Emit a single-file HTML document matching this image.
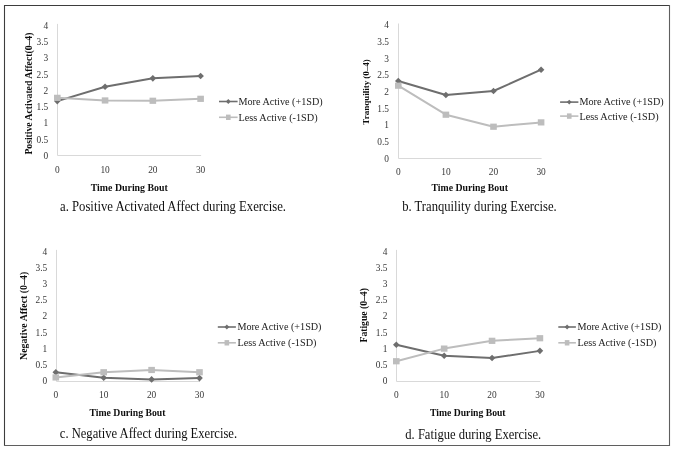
<!DOCTYPE html>
<html><head><meta charset="utf-8"><style>
html,body{margin:0;padding:0;background:#fff;overflow:hidden;}
svg{display:block;}
text{font-family:"Liberation Serif", serif;}
</style></head><body>
<svg width="675" height="449" viewBox="0 0 675 449">
<defs><filter id="bl" x="-2%" y="-2%" width="104%" height="104%"><feGaussianBlur stdDeviation="0.35"/></filter></defs>
<rect x="0" y="0" width="675" height="449" fill="#fff"/>
<g filter="url(#bl)">
<path d="M4.5 446V5.5H670" fill="none" stroke="#3e3e3e" stroke-width="1.1"/>
<path d="M669.5 5V445.5H4" fill="none" stroke="#5e5e5e" stroke-width="1.1"/>
<g id="cha">
<path d="M57.5 23.9V155.5H201.11" fill="none" stroke="#d9d9d9" stroke-width="1"/>
<text x="48.3" y="158.9" font-size="9.4" text-anchor="end" fill="#383838">0</text>
<text x="48.3" y="142.65" font-size="9.4" text-anchor="end" fill="#383838">0.5</text>
<text x="48.3" y="126.4" font-size="9.4" text-anchor="end" fill="#383838">1</text>
<text x="48.3" y="110.15" font-size="9.4" text-anchor="end" fill="#383838">1.5</text>
<text x="48.3" y="93.9" font-size="9.4" text-anchor="end" fill="#383838">2</text>
<text x="48.3" y="77.65" font-size="9.4" text-anchor="end" fill="#383838">2.5</text>
<text x="48.3" y="61.4" font-size="9.4" text-anchor="end" fill="#383838">3</text>
<text x="48.3" y="45.15" font-size="9.4" text-anchor="end" fill="#383838">3.5</text>
<text x="48.3" y="28.9" font-size="9.4" text-anchor="end" fill="#383838">4</text>
<text x="57.3" y="172.8" font-size="9.4" text-anchor="middle" fill="#383838">0</text>
<text x="105.07" y="172.8" font-size="9.4" text-anchor="middle" fill="#383838">10</text>
<text x="152.84" y="172.8" font-size="9.4" text-anchor="middle" fill="#383838">20</text>
<text x="200.61" y="172.8" font-size="9.4" text-anchor="middle" fill="#383838">30</text>
<text x="90.7" y="190.5" font-size="9.8" font-weight="bold" textLength="77.1" lengthAdjust="spacingAndGlyphs" fill="#111">Time During Bout</text>
<text transform="translate(28.6,93.6) rotate(-90)" x="-61" y="3.3" font-size="9.4" font-weight="bold" textLength="122" lengthAdjust="spacingAndGlyphs" fill="#111">Positive Activated Affect(0–4)</text>
<polyline points="57.3,101.1 105.07,86.8 152.84,78.35 200.61,76.07" fill="none" stroke="#6e6e6e" stroke-width="2" stroke-linejoin="round"/>
<path d="M57.3 97.8L60.6 101.1L57.3 104.4L54 101.1Z" fill="#6e6e6e"/>
<path d="M105.07 83.5L108.37 86.8L105.07 90.1L101.77 86.8Z" fill="#6e6e6e"/>
<path d="M152.84 75.05L156.14 78.35L152.84 81.65L149.54 78.35Z" fill="#6e6e6e"/>
<path d="M200.61 72.77L203.91 76.07L200.61 79.37L197.31 76.07Z" fill="#6e6e6e"/>
<polyline points="57.3,97.85 105.07,100.45 152.84,100.77 200.61,98.82" fill="none" stroke="#bdbdbd" stroke-width="2" stroke-linejoin="round"/>
<rect x="54" y="94.75" width="6.6" height="6.2" fill="#bdbdbd"/>
<rect x="101.77" y="97.35" width="6.6" height="6.2" fill="#bdbdbd"/>
<rect x="149.54" y="97.67" width="6.6" height="6.2" fill="#bdbdbd"/>
<rect x="197.31" y="95.72" width="6.6" height="6.2" fill="#bdbdbd"/>
<path d="M219 101.5H237.6" stroke="#6e6e6e" stroke-width="1.6"/>
<path d="M228.3 99.1L230.7 101.5L228.3 103.9L225.9 101.5Z" fill="#6e6e6e"/>
<path d="M219 117.3H237.6" stroke="#bdbdbd" stroke-width="1.6"/>
<rect x="226" y="114.6" width="4.6" height="5.4" fill="#bdbdbd"/>
<text x="238.5" y="105" font-size="10.4" textLength="84.1" lengthAdjust="spacingAndGlyphs" fill="#222">More Active (+1SD)</text>
<text x="238.5" y="120.6" font-size="10.4" textLength="79.1" lengthAdjust="spacingAndGlyphs" fill="#222">Less Active (-1SD)</text>
<text x="60" y="210.8" font-size="13.7" textLength="226" lengthAdjust="spacingAndGlyphs" fill="#111">a. Positive Activated Affect during Exercise.</text>
</g>
<g id="chb">
<path d="M398.5 23.5V158.5H541.6" fill="none" stroke="#d9d9d9" stroke-width="1"/>
<text x="389" y="161.6" font-size="9.4" text-anchor="end" fill="#383838">0</text>
<text x="389" y="144.92" font-size="9.4" text-anchor="end" fill="#383838">0.5</text>
<text x="389" y="128.25" font-size="9.4" text-anchor="end" fill="#383838">1</text>
<text x="389" y="111.58" font-size="9.4" text-anchor="end" fill="#383838">1.5</text>
<text x="389" y="94.9" font-size="9.4" text-anchor="end" fill="#383838">2</text>
<text x="389" y="78.23" font-size="9.4" text-anchor="end" fill="#383838">2.5</text>
<text x="389" y="61.55" font-size="9.4" text-anchor="end" fill="#383838">3</text>
<text x="389" y="44.88" font-size="9.4" text-anchor="end" fill="#383838">3.5</text>
<text x="389" y="28.2" font-size="9.4" text-anchor="end" fill="#383838">4</text>
<text x="398.3" y="174.7" font-size="9.4" text-anchor="middle" fill="#383838">0</text>
<text x="445.9" y="174.7" font-size="9.4" text-anchor="middle" fill="#383838">10</text>
<text x="493.5" y="174.7" font-size="9.4" text-anchor="middle" fill="#383838">20</text>
<text x="541.1" y="174.7" font-size="9.4" text-anchor="middle" fill="#383838">30</text>
<text x="431.5" y="191" font-size="9.8" font-weight="bold" textLength="76.4" lengthAdjust="spacingAndGlyphs" fill="#111">Time During Bout</text>
<text transform="translate(365.7,91.9) rotate(-90)" x="-32.75" y="3.3" font-size="8.9" font-weight="bold" textLength="65.5" lengthAdjust="spacingAndGlyphs" fill="#111">Tranquility (0–4)</text>
<polyline points="398.3,81.03 445.9,95.03 493.5,91.03 541.1,69.69" fill="none" stroke="#6e6e6e" stroke-width="2" stroke-linejoin="round"/>
<path d="M398.3 77.73L401.6 81.03L398.3 84.33L395 81.03Z" fill="#6e6e6e"/>
<path d="M445.9 91.73L449.2 95.03L445.9 98.33L442.6 95.03Z" fill="#6e6e6e"/>
<path d="M493.5 87.73L496.8 91.03L493.5 94.33L490.2 91.03Z" fill="#6e6e6e"/>
<path d="M541.1 66.39L544.4 69.69L541.1 72.99L537.8 69.69Z" fill="#6e6e6e"/>
<polyline points="398.3,85.7 445.9,114.71 493.5,126.72 541.1,122.38" fill="none" stroke="#bdbdbd" stroke-width="2" stroke-linejoin="round"/>
<rect x="395" y="82.6" width="6.6" height="6.2" fill="#bdbdbd"/>
<rect x="442.6" y="111.61" width="6.6" height="6.2" fill="#bdbdbd"/>
<rect x="490.2" y="123.62" width="6.6" height="6.2" fill="#bdbdbd"/>
<rect x="537.8" y="119.28" width="6.6" height="6.2" fill="#bdbdbd"/>
<path d="M560.1 102.1H578.4" stroke="#6e6e6e" stroke-width="1.6"/>
<path d="M569.25 99.7L571.65 102.1L569.25 104.5L566.85 102.1Z" fill="#6e6e6e"/>
<path d="M560.1 116.1H578.4" stroke="#bdbdbd" stroke-width="1.6"/>
<rect x="566.95" y="113.4" width="4.6" height="5.4" fill="#bdbdbd"/>
<text x="579.5" y="105" font-size="9.8" textLength="84.1" lengthAdjust="spacingAndGlyphs" fill="#222">More Active (+1SD)</text>
<text x="579.5" y="119.7" font-size="9.8" textLength="79.1" lengthAdjust="spacingAndGlyphs" fill="#222">Less Active (-1SD)</text>
<text x="402.2" y="211.1" font-size="13.7" textLength="154.6" lengthAdjust="spacingAndGlyphs" fill="#111">b. Tranquility during Exercise.</text>
</g>
<g id="chc">
<path d="M56.5 249.9V381.5H200" fill="none" stroke="#d9d9d9" stroke-width="1"/>
<text x="47.3" y="384.2" font-size="9.4" text-anchor="end" fill="#383838">0</text>
<text x="47.3" y="368" font-size="9.4" text-anchor="end" fill="#383838">0.5</text>
<text x="47.3" y="351.8" font-size="9.4" text-anchor="end" fill="#383838">1</text>
<text x="47.3" y="335.6" font-size="9.4" text-anchor="end" fill="#383838">1.5</text>
<text x="47.3" y="319.4" font-size="9.4" text-anchor="end" fill="#383838">2</text>
<text x="47.3" y="303.2" font-size="9.4" text-anchor="end" fill="#383838">2.5</text>
<text x="47.3" y="287" font-size="9.4" text-anchor="end" fill="#383838">3</text>
<text x="47.3" y="270.8" font-size="9.4" text-anchor="end" fill="#383838">3.5</text>
<text x="47.3" y="254.6" font-size="9.4" text-anchor="end" fill="#383838">4</text>
<text x="55.8" y="398.3" font-size="9.4" text-anchor="middle" fill="#383838">0</text>
<text x="103.7" y="398.3" font-size="9.4" text-anchor="middle" fill="#383838">10</text>
<text x="151.6" y="398.3" font-size="9.4" text-anchor="middle" fill="#383838">20</text>
<text x="199.5" y="398.3" font-size="9.4" text-anchor="middle" fill="#383838">30</text>
<text x="89.5" y="416.3" font-size="9.8" font-weight="bold" textLength="76" lengthAdjust="spacingAndGlyphs" fill="#111">Time During Bout</text>
<text transform="translate(23.8,315.9) rotate(-90)" x="-44.1" y="3.3" font-size="9.4" font-weight="bold" textLength="88.2" lengthAdjust="spacingAndGlyphs" fill="#111">Negative Affect (0–4)</text>
<polyline points="55.8,372.25 103.7,377.76 151.6,379.38 199.5,378.08" fill="none" stroke="#6e6e6e" stroke-width="2" stroke-linejoin="round"/>
<path d="M55.8 368.95L59.1 372.25L55.8 375.55L52.5 372.25Z" fill="#6e6e6e"/>
<path d="M103.7 374.46L107 377.76L103.7 381.06L100.4 377.76Z" fill="#6e6e6e"/>
<path d="M151.6 376.08L154.9 379.38L151.6 382.68L148.3 379.38Z" fill="#6e6e6e"/>
<path d="M199.5 374.78L202.8 378.08L199.5 381.38L196.2 378.08Z" fill="#6e6e6e"/>
<polyline points="55.8,377.44 103.7,372.25 151.6,369.98 199.5,372.25" fill="none" stroke="#bdbdbd" stroke-width="2" stroke-linejoin="round"/>
<rect x="52.5" y="374.34" width="6.6" height="6.2" fill="#bdbdbd"/>
<rect x="100.4" y="369.15" width="6.6" height="6.2" fill="#bdbdbd"/>
<rect x="148.3" y="366.88" width="6.6" height="6.2" fill="#bdbdbd"/>
<rect x="196.2" y="369.15" width="6.6" height="6.2" fill="#bdbdbd"/>
<path d="M217.8 327H235.9" stroke="#6e6e6e" stroke-width="1.6"/>
<path d="M226.85 324.6L229.25 327L226.85 329.4L224.45 327Z" fill="#6e6e6e"/>
<path d="M217.8 342.8H235.9" stroke="#bdbdbd" stroke-width="1.6"/>
<rect x="224.55" y="340.1" width="4.6" height="5.4" fill="#bdbdbd"/>
<text x="237.4" y="330.2" font-size="10.3" textLength="84.1" lengthAdjust="spacingAndGlyphs" fill="#222">More Active (+1SD)</text>
<text x="237.4" y="346.1" font-size="10.3" textLength="79.1" lengthAdjust="spacingAndGlyphs" fill="#222">Less Active (-1SD)</text>
<text x="59.8" y="437.8" font-size="13.7" textLength="177.3" lengthAdjust="spacingAndGlyphs" fill="#111">c. Negative Affect during Exercise.</text>
</g>
<g id="chd">
<path d="M396.5 249.9V381.5H540.41" fill="none" stroke="#d9d9d9" stroke-width="1"/>
<text x="387.5" y="384.2" font-size="9.4" text-anchor="end" fill="#383838">0</text>
<text x="387.5" y="368" font-size="9.4" text-anchor="end" fill="#383838">0.5</text>
<text x="387.5" y="351.8" font-size="9.4" text-anchor="end" fill="#383838">1</text>
<text x="387.5" y="335.6" font-size="9.4" text-anchor="end" fill="#383838">1.5</text>
<text x="387.5" y="319.4" font-size="9.4" text-anchor="end" fill="#383838">2</text>
<text x="387.5" y="303.2" font-size="9.4" text-anchor="end" fill="#383838">2.5</text>
<text x="387.5" y="287" font-size="9.4" text-anchor="end" fill="#383838">3</text>
<text x="387.5" y="270.8" font-size="9.4" text-anchor="end" fill="#383838">3.5</text>
<text x="387.5" y="254.6" font-size="9.4" text-anchor="end" fill="#383838">4</text>
<text x="396.3" y="398.3" font-size="9.4" text-anchor="middle" fill="#383838">0</text>
<text x="444.17" y="398.3" font-size="9.4" text-anchor="middle" fill="#383838">10</text>
<text x="492.04" y="398.3" font-size="9.4" text-anchor="middle" fill="#383838">20</text>
<text x="539.91" y="398.3" font-size="9.4" text-anchor="middle" fill="#383838">30</text>
<text x="430" y="416" font-size="9.8" font-weight="bold" textLength="75.6" lengthAdjust="spacingAndGlyphs" fill="#111">Time During Bout</text>
<text transform="translate(363.6,315.3) rotate(-90)" x="-27.2" y="3.3" font-size="9.4" font-weight="bold" textLength="54.4" lengthAdjust="spacingAndGlyphs" fill="#111">Fatigue (0–4)</text>
<polyline points="396.3,344.71 444.17,355.73 492.04,358 539.91,350.87" fill="none" stroke="#6e6e6e" stroke-width="2" stroke-linejoin="round"/>
<path d="M396.3 341.41L399.6 344.71L396.3 348.01L393 344.71Z" fill="#6e6e6e"/>
<path d="M444.17 352.43L447.47 355.73L444.17 359.03L440.87 355.73Z" fill="#6e6e6e"/>
<path d="M492.04 354.7L495.34 358L492.04 361.3L488.74 358Z" fill="#6e6e6e"/>
<path d="M539.91 347.57L543.21 350.87L539.91 354.17L536.61 350.87Z" fill="#6e6e6e"/>
<polyline points="396.3,361.24 444.17,348.6 492.04,340.82 539.91,338.23" fill="none" stroke="#bdbdbd" stroke-width="2" stroke-linejoin="round"/>
<rect x="393" y="358.14" width="6.6" height="6.2" fill="#bdbdbd"/>
<rect x="440.87" y="345.5" width="6.6" height="6.2" fill="#bdbdbd"/>
<rect x="488.74" y="337.72" width="6.6" height="6.2" fill="#bdbdbd"/>
<rect x="536.61" y="335.13" width="6.6" height="6.2" fill="#bdbdbd"/>
<path d="M558.3 327H575.9" stroke="#6e6e6e" stroke-width="1.6"/>
<path d="M567.1 324.6L569.5 327L567.1 329.4L564.7 327Z" fill="#6e6e6e"/>
<path d="M558.3 342.8H575.9" stroke="#bdbdbd" stroke-width="1.6"/>
<rect x="564.8" y="340.1" width="4.6" height="5.4" fill="#bdbdbd"/>
<text x="577.4" y="330.2" font-size="10.3" textLength="84.1" lengthAdjust="spacingAndGlyphs" fill="#222">More Active (+1SD)</text>
<text x="577.4" y="346.1" font-size="10.3" textLength="79.1" lengthAdjust="spacingAndGlyphs" fill="#222">Less Active (-1SD)</text>
<text x="405.3" y="439" font-size="13.7" textLength="135.9" lengthAdjust="spacingAndGlyphs" fill="#111">d. Fatigue during Exercise.</text>
</g>
</g>
</svg>
</body></html>
